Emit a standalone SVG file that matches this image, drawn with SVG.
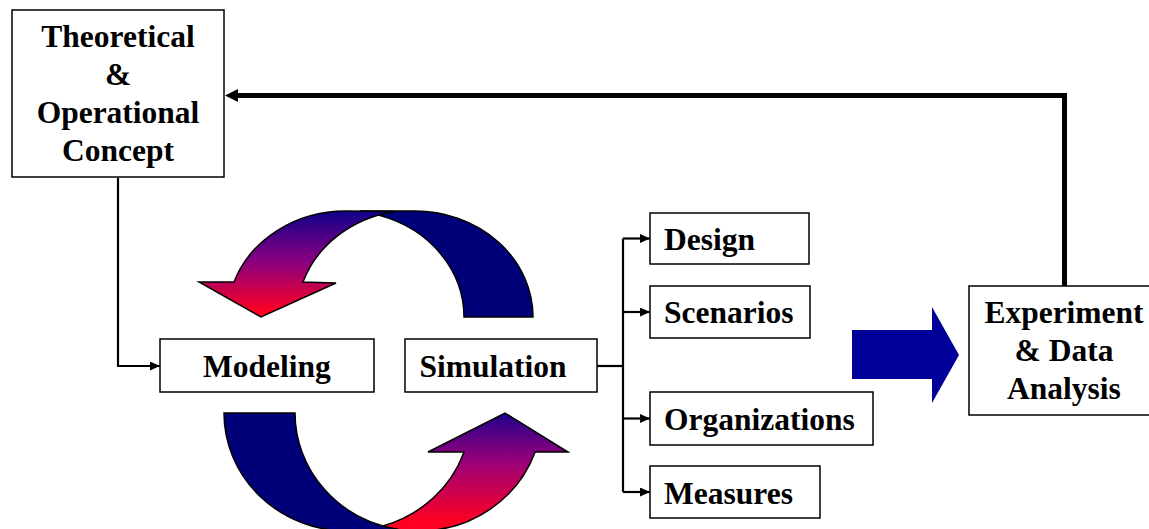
<svg xmlns="http://www.w3.org/2000/svg" width="1149" height="529" viewBox="0 0 1149 529">
<style>
.box{fill:#fff;stroke:#000;stroke-width:1.5}
.t{font-family:"Liberation Serif","Times New Roman",serif;font-weight:bold;font-size:31.5px;fill:#000}
.c{text-anchor:middle}
.ln{fill:none;stroke:#000;stroke-width:2.2}
.thick{fill:none;stroke:#000;stroke-width:5}
.band{stroke:#000;stroke-width:1.5;stroke-linejoin:miter}
</style>
<defs>
<marker id="ah" markerUnits="userSpaceOnUse" markerWidth="11" markerHeight="9" refX="10" refY="4.5" orient="auto">
<path d="M0,0 L10,4.5 L0,9 Z" fill="#000"/>
</marker>
<linearGradient id="gTop" gradientUnits="userSpaceOnUse" x1="0" y1="211" x2="0" y2="312">
<stop offset="0" stop-color="#10008a"/>
<stop offset="0.5" stop-color="#8a0080"/>
<stop offset="1" stop-color="#ff0022"/>
</linearGradient>
<linearGradient id="gBot" gradientUnits="userSpaceOnUse" x1="0" y1="413" x2="0" y2="522">
<stop offset="0" stop-color="#20008c"/>
<stop offset="0.45" stop-color="#9a0078"/>
<stop offset="1" stop-color="#ff0022"/>
</linearGradient>
</defs>

<g id="cycle-top">
<path class="band" fill="#000078" d="M533,317 A118.3,106 0 0 0 414.7,211 L360,211 L380.2,215.6 A118.3,106 0 0 1 464,317 Z"/>
<path class="band" fill="url(#gTop)" d="M234,282 A118.3,106 0 0 1 345.7,211 L394.8,211.5 A118.3,106 0 0 0 303,282 L336,283 L261,317 L199,282 Z"/>
</g>
<g id="cycle-bottom">
<path class="band" fill="url(#gBot)" d="M464.1,452 A123.5,118 0 0 1 383,526 L365,531 L418.5,531 A123.5,118 0 0 0 535.1,452 L568,452 L505,413 L428,452 Z"/>
<path class="band" fill="#000078" d="M224,413 A123.5,118 0 0 0 347.5,531 L399,529.5 A123.5,118 0 0 1 295,413 Z"/>
</g>
<g id="big-arrow">
<path d="M852,330 H932 V307 L959,355 L932,403 V379 H852 Z" fill="#000099"/>
</g>

<g id="connectors">
<path class="thick" d="M1064.5,286 V95.5 H237"/>
<path d="M225,95.5 L238,89 L238,102 Z" fill="#000"/>
<path class="ln" d="M118,178 V366 H160" marker-end="url(#ah)"/>
<path class="ln" d="M597,366 H623"/>
<path class="ln" d="M623,238.5 V492"/>
<path class="ln" d="M623,238.5 H650" marker-end="url(#ah)"/>
<path class="ln" d="M623,312 H650" marker-end="url(#ah)"/>
<path class="ln" d="M623,418.5 H650" marker-end="url(#ah)"/>
<path class="ln" d="M623,492 H650" marker-end="url(#ah)"/>
</g>

<g id="theoretical">
<rect class="box" x="12" y="10" width="212" height="167"/>
<text class="t c" x="118" y="47">Theoretical</text>
<text class="t c" x="118" y="85">&amp;</text>
<text class="t c" x="118" y="123">Operational</text>
<text class="t c" x="118" y="161">Concept</text>
</g>
<g id="modeling">
<rect class="box" x="160" y="339" width="214" height="53"/>
<text class="t c" x="267" y="377">Modeling</text>
</g>
<g id="simulation">
<rect class="box" x="405" y="339" width="192" height="53"/>
<text class="t c" x="493" y="377">Simulation</text>
</g>
<g id="design">
<rect class="box" x="650" y="213" width="159" height="51"/>
<text class="t" x="664" y="250">Design</text>
</g>
<g id="scenarios">
<rect class="box" x="650" y="286" width="160" height="52"/>
<text class="t" x="664" y="323">Scenarios</text>
</g>
<g id="organizations">
<rect class="box" x="650" y="392" width="223" height="53"/>
<text class="t" x="664" y="430">Organizations</text>
</g>
<g id="measures">
<rect class="box" x="650" y="466" width="170" height="52"/>
<text class="t" x="664" y="503.5">Measures</text>
</g>
<g id="experiment">
<rect class="box" x="969" y="286" width="200" height="129"/>
<text class="t c" x="1064" y="323">Experiment</text>
<text class="t c" x="1064" y="361">&amp; Data</text>
<text class="t c" x="1064" y="399">Analysis</text>
</g>
</svg>
